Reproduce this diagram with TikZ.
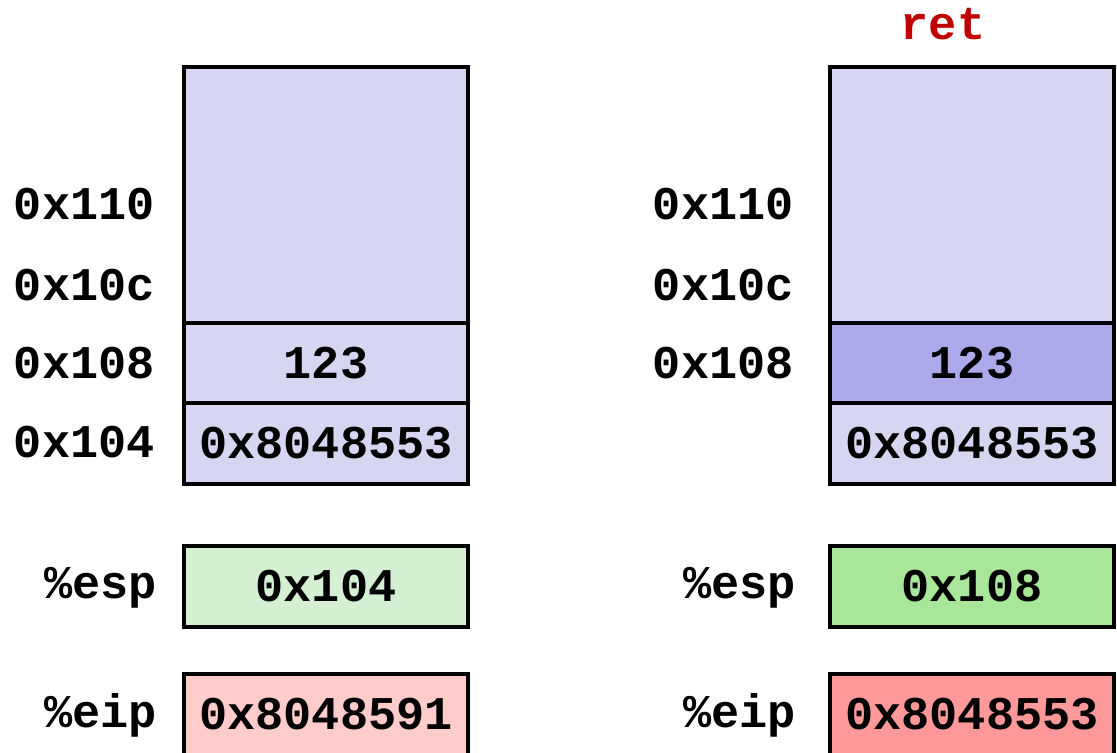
\documentclass[tikz,border=0pt]{standalone}
\usepackage{fontspec}
\setmonofont{Liberation Mono}
\definecolor{stackblue}{HTML}{D6D6F2}
\definecolor{popblue}{HTML}{ACAAEB}
\definecolor{espold}{HTML}{D5EFD3}
\definecolor{espnew}{HTML}{A8E69A}
\definecolor{eipold}{HTML}{FFCCCC}
\definecolor{eipnew}{HTML}{FF9999}
\definecolor{retred}{HTML}{C00000}
\usetikzlibrary{positioning}
\newcommand{\codefont}{\ttfamily\bfseries\fontsize{26.7}{32}\selectfont}
\tikzset{
	cell/.style = {draw, line width = 0.08cm, minimum width = 5.68cm, inner sep = 0pt, outer sep = 0pt, font = \codefont},
	addr/.style = {anchor = east, inner sep = 0pt, font = \codefont}
}

\begin{document}
\begin{tikzpicture}[x = 0.02cm, y = -0.02cm]
		\useasboundingbox (0,0) rectangle (1117,752);
		% before ret
		\node[cell, fill = stackblue, minimum height = 5.12cm] (topA) at (326,195) {};
		\node[cell, fill = stackblue, minimum height = 1.6cm, below = 0cm of topA] (valA) {123};
		\node[cell, fill = stackblue, minimum height = 1.62cm, below = 0cm of valA] (raA) {0x8048553};
		\node[cell, fill = espold, minimum height = 1.62cm] (espA) at (326,586.5) {0x104};
		\node[cell, fill = eipold, minimum height = 1.62cm] (eipA) at (326,714.5) {0x8048591};
		\node[addr] (a110A) at (155,204) {0x110};
		\node[addr] (a10cA) at (155,285) {0x10c};
		\node[addr] (a108A) at (155,363) {0x108};
		\node[addr] (a104A) at (155,442) {0x104};
		\node[addr] (respA) at (157,588) {\%esp};
		\node[addr] (reipA) at (157,715) {\%eip};
		% after ret
		\node[font = \codefont, text = retred] (ret) at (943,24) {ret};
		\node[cell, fill = stackblue, minimum height = 5.12cm] (topB) at (972,195) {};
		\node[cell, fill = popblue, minimum height = 1.6cm, below = 0cm of topB] (valB) {123};
		\node[cell, fill = stackblue, minimum height = 1.62cm, below = 0cm of valB] (raB) {0x8048553};
		\node[cell, fill = espnew, minimum height = 1.62cm] (espB) at (972,586.5) {0x108};
		\node[cell, fill = eipnew, minimum height = 1.62cm] (eipB) at (972,714.5) {0x8048553};
		\node[addr] (a110B) at (794,204) {0x110};
		\node[addr] (a10cB) at (794,285) {0x10c};
		\node[addr] (a108B) at (794,363) {0x108};
		\node[addr] (respB) at (796,588) {\%esp};
		\node[addr] (reipB) at (796,715) {\%eip};
	\end{tikzpicture}
\end{document}
